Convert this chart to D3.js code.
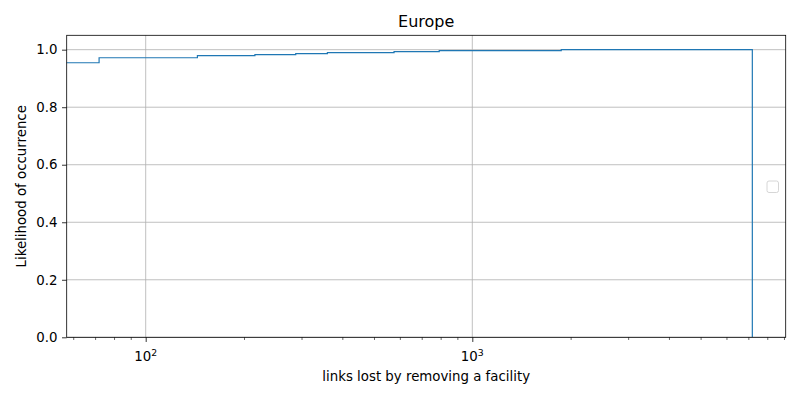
<!DOCTYPE html>
<html>
<head>
<meta charset="utf-8">
<script src="https://cdn.jsdelivr.net/npm/d3@7"></script>
<style>
  html, body { margin: 0; padding: 0; background: #fff; }
  svg { display: block; font-family: "DejaVu Sans", sans-serif; }
</style>
</head>
<body>
<svg id="chart" width="800" height="400"></svg>
<script>
// ---- data ----
const title = "Europe";
const xLabel = "links lost by removing a facility";
const yLabel = "Likelihood of occurrence";
// bin edges of the cumulative step histogram
const binEdges = [0, 72, 144, 216, 288, 360, 576, 792, 1872, 7200];
// cumulative likelihood for each bin [edge_i, edge_{i+1}]
const cumulative = [0.9545, 0.972, 0.979, 0.9825, 0.986, 0.9895, 0.993, 0.9965, 1.0];
const xDomain = [57.3, 9110];
const yDomain = [0, 1.05];
const yTicks = [0, 0.2, 0.4, 0.6, 0.8, 1.0];
const xMajorTicks = [100, 1000];
const xMinorTicks = [60, 70, 80, 90, 200, 300, 400, 500, 600, 700, 800, 900,
                     2000, 3000, 4000, 5000, 6000, 7000, 8000, 9000];

// ---- layout ----
const svg = d3.select("#chart");
const L = 66.7, R = 785.7, T = 35.3, B = 337.3;

const x = d3.scaleLog().domain(xDomain).range([L, R]);
const y = d3.scaleLinear().domain(yDomain).range([B, T]);

// clip
svg.append("defs").append("clipPath").attr("id", "clip")
  .append("rect").attr("x", L).attr("y", T).attr("width", R - L).attr("height", B - T);

// grid
const grid = svg.append("g").attr("stroke", "#b0b0b0").attr("stroke-width", 0.8);
grid.selectAll("line.gx").data(xMajorTicks).join("line")
  .attr("x1", d => x(d)).attr("x2", d => x(d)).attr("y1", T).attr("y2", B);
grid.selectAll("line.gy").data(yTicks).join("line")
  .attr("x1", L).attr("x2", R).attr("y1", d => y(d)).attr("y2", d => y(d));

// step line
const pts = [];
pts.push([Math.max(binEdges[0], xDomain[0] / 2), 0]);
cumulative.forEach((c, i) => {
  const x0 = Math.max(binEdges[i], xDomain[0] / 2);
  pts.push([x0, c]);
  pts.push([binEdges[i + 1], c]);
});
pts.push([binEdges[binEdges.length - 1], 0]);

const line = d3.line().x(d => x(d[0])).y(d => y(d[1]));
svg.append("path")
  .attr("clip-path", "url(#clip)")
  .attr("d", line(pts))
  .attr("fill", "none")
  .attr("stroke", "#1f77b4")
  .attr("stroke-width", 1.2);

// axes
const xAxis = d3.axisBottom(x).tickValues(xMajorTicks).tickSize(4.67).tickPadding(4.67).tickFormat("");
const gx = svg.append("g").attr("transform", `translate(0,${B})`).call(xAxis);
gx.select(".domain").remove();
gx.selectAll("line").attr("stroke", "#000").attr("stroke-width", 0.8);
const xMinor = d3.axisBottom(x).tickValues(xMinorTicks).tickSize(2.67).tickFormat("");
const gxm = svg.append("g").attr("transform", `translate(0,${B})`).call(xMinor);
gxm.select(".domain").remove();
gxm.selectAll("line").attr("stroke", "#000").attr("stroke-width", 0.6);

// x major labels with superscripts
const lbl = svg.append("g").attr("font-size", 13.33).attr("fill", "#000");
xMajorTicks.forEach(v => {
  const t = lbl.append("text").attr("x", x(v)).attr("y", 361).attr("text-anchor", "middle");
  t.append("tspan").text("10");
  t.append("tspan").attr("font-size", 9.3).attr("dy", -5.5).text(String(Math.round(Math.log10(v))));
});

const yAxis = d3.axisLeft(y).tickValues(yTicks).tickSize(4.67).tickPadding(4.67).tickFormat(d3.format(".1f"));
const gy = svg.append("g").attr("transform", `translate(${L},0)`).call(yAxis);
gy.select(".domain").remove();
gy.selectAll("line").attr("stroke", "#000").attr("stroke-width", 0.8);
gy.selectAll("text").attr("font-size", 13.33).attr("font-family", "DejaVu Sans, sans-serif").attr("fill", "#000");

// frame
svg.append("rect").attr("x", L).attr("y", T).attr("width", R - L).attr("height", B - T)
  .attr("fill", "none").attr("stroke", "#000").attr("stroke-width", 0.8);

// empty legend box
svg.append("rect").attr("x", 767).attr("y", 181).attr("width", 11.5).attr("height", 11.5)
  .attr("rx", 2).attr("fill", "#fff").attr("fill-opacity", 0.8)
  .attr("stroke", "#cccccc").attr("stroke-width", 0.8);

// labels
svg.append("text").attr("x", (L + R) / 2).attr("y", 27.3).attr("text-anchor", "middle")
  .attr("font-size", 16).text(title);
svg.append("text").attr("x", (L + R) / 2).attr("y", 380.5).attr("text-anchor", "middle")
  .attr("font-size", 13.33).text(xLabel);
svg.append("text").attr("transform", `translate(25.5,${(T + B) / 2}) rotate(-90)`)
  .attr("text-anchor", "middle").attr("font-size", 13.33).text(yLabel);
</script>
</body>
</html>
